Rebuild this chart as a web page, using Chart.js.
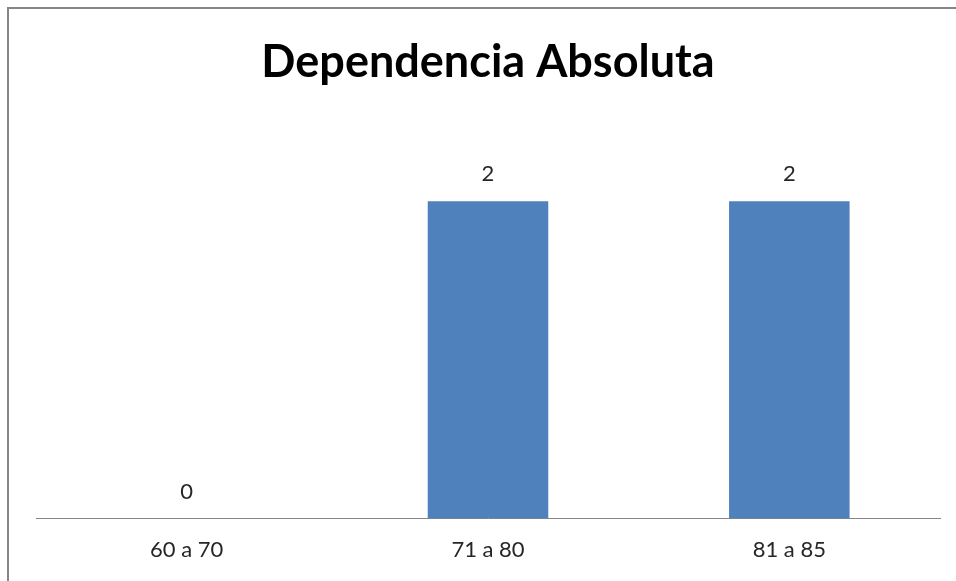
<!DOCTYPE html>
<html>
<head>
<meta charset="utf-8">
<script src="https://cdn.jsdelivr.net/npm/chart.js@4"></script>
<style>
  html, body { margin: 0; padding: 0; background: #fff; overflow: hidden; }
  #wrap { position: relative; width: 956px; height: 581px; }
  #frame {
    position: absolute; left: 7px; top: 7px; width: 1100px; height: 800px;
    border-left: 2px solid #868686; border-top: 2px solid #868686;
  }
  #chart { position: absolute; left: 0; top: 0; }
</style>
</head>
<body>
<div id="wrap">
  <div id="frame"></div>
  <canvas id="chart" width="956" height="581"></canvas>
</div>
<script>
// Datos del gráfico
const categorias = ["60 a 70", "71 a 80", "81 a 85"];
const valores = [0, 2, 2];
const titulo = "Dependencia Absoluta";

const fuente = "Lato, 'Noto Sans', sans-serif";

// Etiquetas de valor encima de cada barra
const etiquetasValor = {
    id: "etiquetasValor",
    afterDatasetsDraw(chart) {
        const ctx = chart.ctx;
        const meta = chart.getDatasetMeta(0);
        ctx.save();
        ctx.font = "22px " + fuente;
        ctx.fillStyle = "#262626";
        ctx.textAlign = "center";
        ctx.textBaseline = "middle";
        meta.data.forEach((bar, i) => {
            ctx.fillText(String(valores[i]), bar.x, bar.y - 27);
        });
        ctx.restore();
    },
};

new Chart(document.getElementById("chart").getContext("2d"), {
    type: "bar",
    data: {
        labels: categorias,
        datasets: [
            {
                label: titulo,
                data: valores,
                backgroundColor: "#4F81BD",
                borderWidth: 0,
                categoryPercentage: 1,
                barPercentage: 0.4,
            },
        ],
    },
    options: {
        responsive: false,
        animation: false,
        layout: {
            padding: { top: 0, left: 36, right: 16, bottom: 8 },
        },
        plugins: {
            legend: { display: false },
            tooltip: { enabled: false },
            title: {
                display: true,
                text: titulo,
                color: "#000",
                font: { family: fuente, size: 45, weight: "bold" },
                padding: { top: 35, bottom: 33 },
            },
        },
        scales: {
            x: {
                grid: { display: false },
                border: { display: true, color: "#868686", width: 1 },
                ticks: {
                    color: "#262626",
                    padding: 10,
                    font: { family: fuente, size: 22 },
                },
            },
            y: {
                display: false,
                min: 0,
                max: 2.5,
            },
        },
    },
    plugins: [etiquetasValor],
});
</script>
</body>
</html>
